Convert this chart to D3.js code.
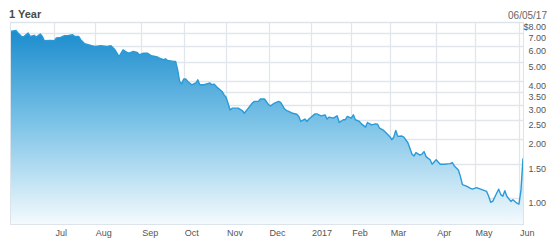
<!DOCTYPE html>
<html>
<head>
<meta charset="utf-8">
<script src="https://cdn.jsdelivr.net/npm/d3@7"></script>
<style>
  body { margin: 0; background: #fff; }
  svg { display: block; font-family: "Liberation Sans", Arial, sans-serif; }
</style>
</head>
<body>
<div id="chart-area"></div>
<script>
// trading-day index (0 = first session of the year window) and closing price
const dayIdx = [0, 3, 4, 6, 7, 9, 10, 12, 13, 15, 16, 17, 20, 22, 23, 25, 27, 29, 31, 32,
  34, 35, 37, 40, 42, 45, 48, 50, 52, 54, 55, 56, 58, 59, 61, 63, 64, 66, 68, 70,
  73, 74, 76, 77, 78, 81, 82, 83, 84, 85, 86, 87, 88, 90, 92, 93, 94, 96, 97, 99,
  100, 101, 103, 105, 106, 107, 109, 110, 113, 115, 116, 118, 120, 121, 123, 124, 126, 128, 129, 131,
  133, 134, 136, 137, 138, 140, 142, 143, 144, 146, 147, 148, 151, 152, 154, 156, 157, 158, 160, 162,
  163, 165, 166, 167, 169, 170, 171, 173, 174, 176, 177, 179, 181, 182, 183, 185, 186, 188, 189, 190,
  191, 192, 194, 195, 197, 198, 199, 200, 201, 203, 204, 205, 206, 208, 209, 211, 213, 215, 218, 219,
  220, 222, 223, 224, 226, 228, 229, 231, 232, 234, 236, 237, 238, 239, 241, 242, 243, 244, 245, 246,
  248, 249, 251, 252, 253, 254];
const closes = [7.16, 7.24, 7.02, 6.70, 6.75, 7.02, 6.75, 6.83, 6.70, 6.94, 6.75, 6.41, 6.43, 6.41, 6.62, 6.67, 6.80, 6.83, 6.88, 6.75,
  6.75, 6.49, 6.19, 6.06, 5.99, 6.04, 5.99, 6.04, 5.76, 5.32, 5.54, 5.76, 5.58, 5.54, 5.65, 5.58, 5.43, 5.54, 5.54, 5.37,
  5.29, 5.22, 5.12, 5.18, 5.08, 5.02, 5.02, 4.55, 3.96, 3.85, 4.08, 4.08, 3.96, 3.81, 3.89, 4.04, 3.81, 3.81, 3.84, 3.89,
  3.81, 3.84, 3.66, 3.52, 3.38, 3.29, 2.83, 2.89, 2.89, 2.81, 2.72, 2.89, 3.07, 3.13, 3.13, 3.22, 3.22, 3.01, 2.97, 3.07,
  3.13, 3.09, 2.86, 2.81, 2.78, 2.72, 2.69, 2.62, 2.47, 2.54, 2.47, 2.54, 2.70, 2.70, 2.64, 2.67, 2.54, 2.60, 2.57, 2.64,
  2.44, 2.52, 2.52, 2.62, 2.57, 2.67, 2.52, 2.47, 2.40, 2.31, 2.44, 2.37, 2.40, 2.39, 2.28, 2.22, 2.17, 2.07, 1.99, 2.05,
  2.22, 2.07, 2.08, 2.05, 1.92, 1.80, 1.68, 1.64, 1.71, 1.66, 1.68, 1.73, 1.63, 1.57, 1.49, 1.57, 1.49, 1.49, 1.50, 1.52,
  1.46, 1.39, 1.29, 1.17, 1.15, 1.12, 1.11, 1.13, 1.12, 1.10, 1.08, 1.02, 0.95, 0.96, 1.06, 1.11, 1.04, 1.02, 1.09, 1.02,
  0.96, 0.98, 0.94, 0.93, 1.10, 1.60];

const monthLabels = ["Jul", "Aug", "Sep", "Oct", "Nov", "Dec", "2017", "Feb", "Mar", "Apr", "May", "Jun"];
const monthIdx = [22, 42, 65, 86, 107, 128, 149, 169, 188, 211, 230, 252];

const yTicks = [8, 7, 6, 5, 4, 3.5, 3, 2.5, 2, 1.5, 1];
const yTickLabels = ["$8.00", "7.00", "6.00", "5.00", "4.00", "3.50", "3.00", "2.50", "2.00", "1.50", "1.00"];

const data = dayIdx.map((d, i) => ({ i: d, v: closes[i] }));

const svgWidth = 558;
const svgHeight = 241;
const plot = { left: 10, top: 22, right: 523, bottom: 224 };

const svg = d3.select("#chart-area")
  .append("svg")
  .attr("width", svgWidth)
  .attr("height", svgHeight);

const x = d3.scaleLinear()
  .domain([0, 254])
  .range([plot.left, plot.right]);

const y = d3.scaleLog()
  .domain([0.735, 8])
  .range([plot.bottom, plot.top]);

const grad = svg.append("defs").append("linearGradient")
  .attr("id", "areaFill")
  .attr("gradientUnits", "userSpaceOnUse")
  .attr("x1", 0).attr("x2", 0)
  .attr("y1", plot.top).attr("y2", plot.bottom);
grad.append("stop").attr("offset", "0%").attr("stop-color", "#1287cb");
grad.append("stop").attr("offset", "50%").attr("stop-color", "#7cc3e7");
grad.append("stop").attr("offset", "100%").attr("stop-color", "#f4fafd");

// grid
svg.append("g")
  .selectAll("line")
  .data(yTicks)
  .enter()
  .append("line")
  .attr("x1", plot.left).attr("x2", plot.right)
  .attr("y1", d => Math.round(y(d)) + 0.5)
  .attr("y2", d => Math.round(y(d)) + 0.5)
  .attr("stroke", "#e1e6ec")
  .attr("stroke-width", 1.3);

svg.append("g")
  .selectAll("line")
  .data(monthIdx)
  .enter()
  .append("line")
  .attr("x1", d => Math.round(x(d)) + 0.5)
  .attr("x2", d => Math.round(x(d)) + 0.5)
  .attr("y1", plot.top).attr("y2", plot.bottom)
  .attr("stroke", "#e1e6ec")
  .attr("stroke-width", 1.3);

// area + line
const area = d3.area()
  .x(d => x(d.i))
  .y0(plot.bottom)
  .y1(d => y(d.v));

const line = d3.line()
  .x(d => x(d.i))
  .y(d => y(d.v));

svg.append("path")
  .datum(data)
  .attr("d", area)
  .attr("fill", "url(#areaFill)");

svg.append("path")
  .datum(data)
  .attr("d", line)
  .attr("fill", "none")
  .attr("stroke", "#2a9ad8")
  .attr("stroke-width", 1.4)
  .attr("stroke-linejoin", "round");

// frame
svg.append("rect")
  .attr("x", plot.left + 0.5)
  .attr("y", plot.top + 0.5)
  .attr("width", plot.right - plot.left)
  .attr("height", plot.bottom - plot.top)
  .attr("fill", "none")
  .attr("stroke", "#dde3ea")
  .attr("stroke-width", 1);

// y labels
svg.append("g")
  .selectAll("text")
  .data(yTicks)
  .enter()
  .append("text")
  .attr("x", 546)
  .attr("y", d => y(d) + 8)
  .attr("text-anchor", "end")
  .attr("font-size", 9)
  .attr("fill", "#555")
  .text((d, i) => yTickLabels[i]);

// x labels
svg.append("g")
  .selectAll("text")
  .data(monthIdx)
  .enter()
  .append("text")
  .attr("x", d => x(d) + 1)
  .attr("y", 236)
  .attr("font-size", 9)
  .attr("fill", "#555")
  .text((d, i) => monthLabels[i]);

// title + date
svg.append("text")
  .attr("x", 9)
  .attr("y", 18)
  .attr("font-size", 11)
  .attr("font-weight", "bold")
  .attr("fill", "#4a4a4a")
  .text("1 Year");

svg.append("text")
  .attr("x", 547)
  .attr("y", 19)
  .attr("text-anchor", "end")
  .attr("font-size", 10)
  .attr("fill", "#666")
  .text("06/05/17");
</script>
</body>
</html>
